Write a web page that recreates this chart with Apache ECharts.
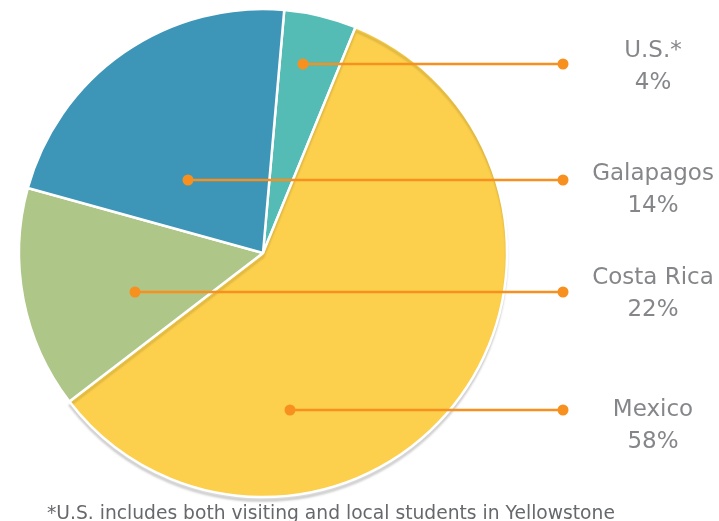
<!DOCTYPE html>
<html>
<head>
<meta charset="utf-8">
<script src="https://cdn.jsdelivr.net/npm/echarts@6/dist/echarts.min.js"></script>
<style>
  html, body { margin: 0; padding: 0; background: #fff; }
  #chart { width: 719px; height: 521px; }
</style>
</head>
<body>
<div id="chart"></div>
<script>
// slices, clockwise from just right of 12 o'clock
var sliceNames = ['U.S.*', 'Mexico', 'Galapagos', 'Costa Rica'];
var sliceValues = [4.8, 58.4, 14.7, 22.1];

// callouts as printed on the right, top to bottom
var calloutNames = ['U.S.*', 'Galapagos', 'Costa Rica', 'Mexico'];
var calloutPercents = ['4%', '14%', '22%', '58%'];

var footnote = '*U.S. includes both visiting and local students in Yellowstone';

// layout only (pixels of the 719x521 page)
var sliceColors = ['#55bcb5', '#fcd04c', '#aec688', '#3d96b7'];
var leaderY = [64, 180, 292, 410];
var leaderStartX = [303, 188, 135, 290];
var leaderEndX = 563;
var textX = 653;
var textY = [67, 190, 294, 426];

var orange = '#f7901e';
var grey = '#67686b';
var font = 'DejaVu Sans';

var dom = document.getElementById('chart');
var myChart = echarts.init(dom);

var pieData = [];
for (var i = 0; i < sliceNames.length; i++) {
  var style = {color: sliceColors[i]};
  // only the big bottom slice casts the soft shadow under the pie
  if (sliceNames[i] === 'Mexico') {
    style.shadowColor = 'rgba(0,0,0,0.13)';
    style.shadowBlur = 2;
    style.shadowOffsetY = 4;
  }
  pieData.push({name: sliceNames[i], value: sliceValues[i], itemStyle: style});
}

var series = [{
  type: 'pie',
  center: [263, 253],
  radius: 244,
  startAngle: 85,
  clockwise: true,
  silent: true,
  label: {show: false},
  labelLine: {show: false},
  itemStyle: {
    borderColor: '#fff',
    borderWidth: 2.5,
  },
  data: pieData,
  z: 2,
}];

// leader lines with a dot at each end
for (var j = 0; j < calloutNames.length; j++) {
  series.push({
    type: 'line',
    xAxisIndex: 0,
    yAxisIndex: 0,
    symbol: 'circle',
    symbolSize: 11,
    silent: true,
    animation: false,
    lineStyle: {color: orange, width: 2.5},
    itemStyle: {color: orange},
    data: [[leaderStartX[j], leaderY[j]], [leaderEndX, leaderY[j]]],
    z: 5,
  });
}

// callout text
var textData = [];
for (var k = 0; k < calloutNames.length; k++) {
  textData.push({value: [textX, textY[k]], name: calloutNames[k], pct: calloutPercents[k]});
}
series.push({
  type: 'scatter',
  symbolSize: 0,
  silent: true,
  animation: false,
  label: {
    show: true,
    position: 'inside',
    color: grey,
    fontFamily: font,
    fontSize: 23,
    lineHeight: 32,
    align: 'center',
    verticalAlign: 'middle',
    formatter: function (p) { return p.data.name + '\n' + p.data.pct; },
  },
  data: textData,
  z: 6,
});

var option = {
  animation: false,
  title: {
    text: footnote,
    left: 47,
    top: 505,
    padding: 0,
    textStyle: {
      fontFamily: font,
      fontSize: 18.7,
      lineHeight: 19,
      fontWeight: 'normal',
      color: grey,
    },
  },
  grid: {left: 0, top: 0, right: 0, bottom: 0},
  xAxis: {type: 'value', min: 0, max: 719, show: false},
  yAxis: {type: 'value', min: 0, max: 521, inverse: true, show: false},
  series: series,
};

myChart.setOption(option);
</script>
</body>
</html>
